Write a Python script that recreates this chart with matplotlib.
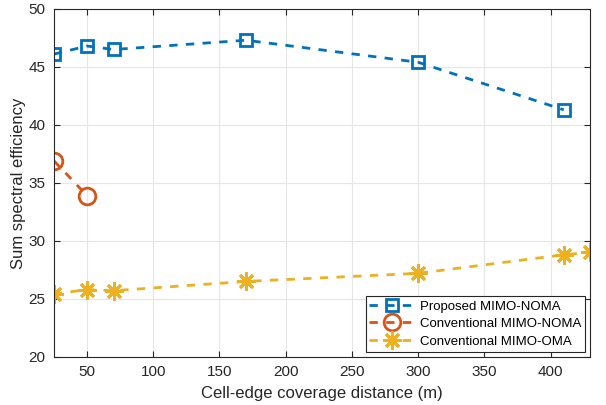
import matplotlib
matplotlib.use("Agg")
import matplotlib.pyplot as plt

plt.rcParams['font.family'] = ['Liberation Sans', 'DejaVu Sans']

# distances (m)
dist_prop = [25, 50, 70, 170, 300, 410]
se_prop = [46.1, 46.8, 46.5, 47.3, 45.4, 41.3]

dist_conv = [25, 50]
se_conv = [36.9, 33.9]

dist_oma = [25, 50, 70, 170, 300, 410, 430]
se_oma = [25.4, 25.8, 25.7, 26.5, 27.2, 28.8, 29.0]

fig = plt.figure(figsize=(6.06, 4.05), dpi=100)
ax = fig.add_axes([0.089, 0.119, 0.885, 0.859])

dash = (3.0, 3.0)
ax.plot(dist_prop, se_prop, '--s', color='#0072BD', lw=2, ms=9, mew=2,
        mfc='none', dashes=dash, label='Proposed MIMO-NOMA')
ax.plot(dist_conv, se_conv, '--o', color='#D95319', lw=2, ms=12, mew=2,
        mfc='none', dashes=dash, label='Conventional MIMO-NOMA')
ax.plot(dist_oma, se_oma, '--', marker=(8, 2, 0), color='#EDB120', lw=2,
        ms=13, mew=2, dashes=dash, label='Conventional MIMO-OMA')

ax.set_xlim(25, 430)
ax.set_ylim(20, 50)
ax.set_xticks(range(50, 401, 50))
ax.set_yticks(range(20, 51, 5))
ax.grid(True, color='#e6e6e6', lw=0.8)
ax.set_axisbelow(True)
ax.tick_params(direction='in', top=True, right=True, labelsize=11,
               colors='#262626', length=4, pad=6)
for s in ax.spines.values():
    s.set_color('#262626')
    s.set_linewidth(0.8)

ax.set_xlabel('Cell-edge coverage distance (m)', fontsize=12, color='#262626',
              labelpad=5)
ax.set_ylabel('Sum spectral efficiency', fontsize=12, color='#262626',
              labelpad=2)

leg = ax.legend(loc='lower right', fontsize=9.5, fancybox=False,
                edgecolor='#262626', framealpha=1, borderaxespad=0.4,
                handlelength=3.4, handletextpad=0.4, labelspacing=0.4,
                borderpad=0.3)
leg.get_frame().set_linewidth(0.8)

fig.savefig('out.png', dpi=100)
